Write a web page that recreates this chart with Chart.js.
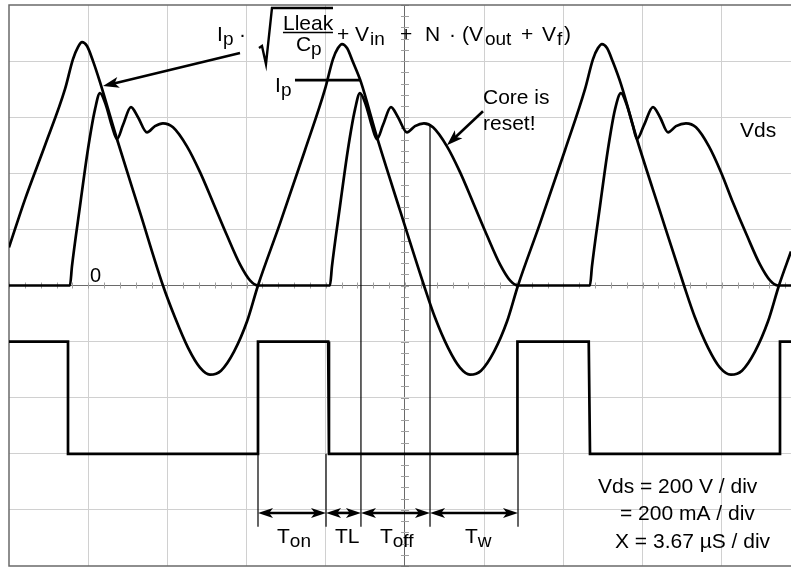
<!DOCTYPE html>
<html><head><meta charset="utf-8">
<script src="https://cdn.jsdelivr.net/npm/chart.js@4.4.1/dist/chart.umd.min.js"></script>
<style>html,body{margin:0;padding:0;background:#fff;}#wrap{width:791px;height:568px;position:relative;}</style>
</head><body><div id="wrap"><canvas id="c"></canvas></div>
<script>
// Units: x in screen divisions (3.67 µS / div), y in screen divisions (200 V / div, 200 mA / div)
const xDivisions = 9.874;          // visible part of the 10-division screen
const yDivisionsMin = -5, yDivisionsMax = 5;
const minorStep = 0.2;

// Current trace (triangular / ringing)
const currentX = [0,0.202,0.455,0.707,0.808,0.871,0.922,0.985,1.061,1.149,1.364,1.654,1.944,
  2.096,2.26,2.412,2.538,2.677,2.841,3.005,3.144,
  3.422,3.737,3.99,4.091,4.154,4.205,4.268,4.343,4.444,4.646,4.937,5.24,
  5.379,5.543,5.694,5.821,5.96,6.124,6.288,6.427,
  6.705,7.02,7.273,7.374,7.437,7.487,7.551,7.626,7.727,7.929,8.22,8.523,
  8.662,8.826,8.977,9.116,9.255,9.419,9.583,9.722,9.874];
const currentY = [0.679,1.536,2.5,3.5,4.036,4.25,4.339,4.268,4.0,3.625,2.607,1.304,0,
  -0.571,-1.107,-1.464,-1.589,-1.518,-1.179,-0.643,0,
  1.107,2.411,3.5,4.036,4.232,4.304,4.232,3.982,3.625,2.643,1.339,0,
  -0.571,-1.107,-1.464,-1.589,-1.518,-1.179,-0.643,0,
  1.107,2.411,3.5,4.036,4.232,4.304,4.232,3.982,3.589,2.607,1.321,0,
  -0.571,-1.107,-1.464,-1.589,-1.518,-1.179,-0.643,0,0.607];

// Vds trace
const vdsX = [0,0.77,0.795,0.896,0.997,1.086,1.149,1.225,1.30,1.364,1.439,1.54,1.629,1.742,1.843,1.944,2.071,2.247,2.412,2.576,2.753,2.917,3.043,3.144,
  4.053,4.078,4.179,4.28,4.369,4.432,4.508,4.583,4.646,4.722,4.823,4.912,5.025,5.126,5.24,5.354,5.53,5.695,5.859,6.036,6.20,6.326,6.427,
  7.336,7.361,7.462,7.563,7.652,7.727,7.803,7.879,7.929,8.018,8.131,8.22,8.321,8.422,8.548,8.674,8.838,8.99,9.141,9.318,9.482,9.609,9.71,9.874];
const vdsY = [0,0,0.34,1.41,2.43,3.14,3.43,3.21,2.84,2.61,2.86,3.18,3.0,2.73,2.84,2.89,2.82,2.48,2.02,1.48,0.89,0.375,0.09,0,
  0,0.34,1.41,2.43,3.14,3.43,3.21,2.84,2.61,2.86,3.18,3.0,2.73,2.84,2.89,2.82,2.48,2.02,1.48,0.89,0.375,0.09,0,
  0,0.34,1.41,2.43,3.14,3.43,3.21,2.84,2.61,2.86,3.18,3.0,2.73,2.84,2.89,2.82,2.48,2.02,1.48,0.89,0.375,0.09,0,0];

// Gate drive square wave
const gateX = [0,0.745,0.745,3.144,3.144,4.03,4.04,6.42,6.42,7.32,7.336,9.735,9.735,9.874];
const gateY = [-1,-1,-3,-3,-1,-1,-3,-3,-1,-1,-3,-3,-1,-1];

// Timing markers
const markerX = [3.144, 4.003, 4.444, 5.316, 6.427];
const markerTop = [-3, -3, 3.43, 2.86, -3];
const markerBottom = -4.30;
const dimensionY = -4.054;
const intervalNames = ['T','TL','T','T'];
const intervalSubs = ['on','','off','w'];
const intervalLabelX = [3.384, 4.116, 4.684, 5.758];
const intervalLabelY = -4.589;

// Ip level line
const ipLineX = [3.611, 4.444];
const ipLineY = [3.661, 3.661];

const pts = (xs, ys) => xs.map((v, i) => ({x: v, y: ys[i]}));

const datasets = [
  {data: pts(currentX, currentY), borderColor:'#000', borderWidth:2.7, cubicInterpolationMode:'monotone', pointRadius:0},
  {data: pts(vdsX, vdsY), borderColor:'#000', borderWidth:2.7, cubicInterpolationMode:'monotone', pointRadius:0},
  {data: pts(gateX, gateY), borderColor:'#000', borderWidth:2.7, tension:0, pointRadius:0, borderJoinStyle:'miter'},
  {data: pts(ipLineX, ipLineY), borderColor:'#000', borderWidth:2.7, pointRadius:0}
];
markerX.forEach((mx, i) => datasets.push({data:[{x:mx,y:markerTop[i]},{x:mx,y:markerBottom}], borderColor:'#000', borderWidth:1.2, pointRadius:0}));

const FONT = '"Liberation Sans", Arial, Helvetica, sans-serif';
function txt(ctx, s, x, y, size){ ctx.font = size + 'px ' + FONT; ctx.fillText(s, x, y); }
function head(ctx, x2, y2, ang, len, w){
  const c = Math.cos(ang), s = Math.sin(ang);
  ctx.beginPath();
  ctx.moveTo(x2, y2);
  ctx.lineTo(x2 - len*c + w*s, y2 - len*s - w*c);
  ctx.lineTo(x2 - 0.75*len*c, y2 - 0.75*len*s);
  ctx.lineTo(x2 - len*c - w*s, y2 - len*s + w*c);
  ctx.closePath(); ctx.fill();
}
function arrow(ctx, x1, y1, x2, y2, len, w, lw){
  const ang = Math.atan2(y2-y1, x2-x1);
  ctx.lineWidth = lw;
  ctx.beginPath(); ctx.moveTo(x1,y1); ctx.lineTo(x2 - Math.cos(ang)*len*0.7, y2 - Math.sin(ang)*len*0.7); ctx.stroke();
  head(ctx, x2, y2, ang, len, w);
}

const deco = {
  id: 'deco',
  beforeDatasetsDraw(chart){
    const {ctx, chartArea:a, scales:{x, y}} = chart;
    ctx.save();
    ctx.strokeStyle = '#a0a0a0'; ctx.lineWidth = 1;
    const x0 = x.getPixelForValue(5), y0 = y.getPixelForValue(0);
    ctx.beginPath();
    for (let i = 0; i * minorStep <= xDivisions; i++){
      const px = Math.round(x.getPixelForValue(i*minorStep)) + 0.5;
      ctx.moveTo(px, y0-3); ctx.lineTo(px, y0+3);
    }
    for (let i = -25; i <= 25; i++){
      const py = Math.round(y.getPixelForValue(i*minorStep)) + 0.5;
      ctx.moveTo(x0-4, py); ctx.lineTo(x0+4, py);
    }
    ctx.stroke();
    ctx.strokeStyle = '#6a6a6a'; ctx.lineWidth = 1.5;
    ctx.beginPath();
    ctx.moveTo(a.right, a.top); ctx.lineTo(a.left, a.top); ctx.lineTo(a.left, a.bottom); ctx.lineTo(a.right, a.bottom);
    ctx.stroke();
    ctx.restore();
  },
  afterDatasetsDraw(chart){
    const {ctx, scales:{x, y}} = chart;
    const P = (a, b) => [x.getPixelForValue(a), y.getPixelForValue(b)];
    ctx.save();
    ctx.fillStyle = '#000'; ctx.strokeStyle = '#000'; ctx.textBaseline = 'alphabetic'; ctx.textAlign = 'left';
    ctx.lineCap = 'butt';

    // formula
    const [fx, fy] = P(2.626, 4.357);
    const M = 21, S = 19;
    txt(ctx, 'I', fx, fy, M); txt(ctx, 'p', fx+6, fy+4, S);
    txt(ctx, '·', fx+22, fy, M);
    ctx.lineWidth = 2.4; ctx.lineJoin = 'miter';
    ctx.beginPath(); ctx.moveTo(fx+42, fy+7); ctx.lineTo(fx+45, fy+5); ctx.lineTo(fx+49, fy+23); ctx.lineTo(fx+55, fy-33); ctx.lineTo(fx+116, fy-33); ctx.stroke();
    txt(ctx, 'Lleak', fx+66, fy-11, M);
    ctx.lineWidth = 1.5;
    ctx.beginPath(); ctx.moveTo(fx+66, fy-8.5); ctx.lineTo(fx+116, fy-8.5); ctx.stroke();
    txt(ctx, 'C', fx+79, fy+10, M); txt(ctx, 'p', fx+94, fy+14, S);
    txt(ctx, '+', fx+120, fy, M);
    txt(ctx, 'V', fx+138, fy, M); txt(ctx, 'in', fx+153, fy+4, S);
    txt(ctx, '+', fx+183, fy, M);
    txt(ctx, 'N', fx+208, fy, M);
    txt(ctx, '·', fx+232, fy, M);
    txt(ctx, '(', fx+245, fy, M);
    txt(ctx, 'V', fx+252, fy, M); txt(ctx, 'out', fx+268, fy+4, S);
    txt(ctx, '+', fx+304, fy, M);
    txt(ctx, 'V', fx+325, fy, M); txt(ctx, 'f', fx+340, fy+4, S);
    txt(ctx, ')', fx+347, fy, M);

    // Ip label
    const [ix, iy] = P(3.359, 3.446);
    txt(ctx, 'I', ix, iy, M); txt(ctx, 'p', ix+6, iy+4, S);

    // other labels
    let p;
    p = P(1.023, 0.054); txt(ctx, '0', p[0], p[1], 20);
    p = P(9.23, 2.643); txt(ctx, 'Vds', p[0], p[1], M);
    p = P(5.985, 3.232); txt(ctx, 'Core is', p[0], p[1], M);
    p = P(5.985, 2.768); txt(ctx, 'reset!', p[0], p[1], M);
    p = P(7.437, -3.696); txt(ctx, 'Vds = 200 V / div', p[0], p[1], M);
    p = P(7.715, -4.179); txt(ctx, '= 200 mA / div', p[0], p[1], M);
    p = P(7.652, -4.679); txt(ctx, 'X = 3.67 \u00b5S / div', p[0], p[1], M);

    // arrows
    let a = P(2.917, 4.143), b = P(1.187, 3.554);
    arrow(ctx, a[0], a[1], b[0], b[1], 16, 5.5, 2.6);
    a = P(5.985, 3.107); b = P(5.53, 2.5);
    arrow(ctx, a[0], a[1], b[0], b[1], 16, 5.5, 2.6);

    // dimension arrows
    const dy = y.getPixelForValue(dimensionY);
    for (let i = 0; i < markerX.length - 1; i++){
      const l = x.getPixelForValue(markerX[i]), r = x.getPixelForValue(markerX[i+1]);
      ctx.lineWidth = 2.6;
      ctx.beginPath(); ctx.moveTo(l+8, dy); ctx.lineTo(r-8, dy); ctx.stroke();
      head(ctx, l, dy, Math.PI, 15, 5);
      head(ctx, r, dy, 0, 15, 5);
    }
    // interval labels
    intervalNames.forEach((n, i) => {
      const q = P(intervalLabelX[i], intervalLabelY);
      txt(ctx, n, q[0], q[1], M);
      if (intervalSubs[i]) { ctx.font = M + 'px ' + FONT; const w = ctx.measureText(n).width; txt(ctx, intervalSubs[i], q[0]+w, q[1]+4, S); }
    });
    ctx.restore();
  }
};

const isInt = v => Math.abs(v - Math.round(v)) < 1e-6;
new Chart(document.getElementById('c'), {
  type: 'scatter',
  data: { datasets },
  options: {
    responsive: true, maintainAspectRatio: false, animation: false, devicePixelRatio: 1,
    layout: { padding: { left: 9, right: 0, top: 5, bottom: 2 } },
    plugins: { legend: { display: false }, tooltip: { enabled: false } },
    elements: { point: { radius: 0 }, line: { borderCapStyle: 'butt' } },
    showLine: true,
    scales: {
      x: { type: 'linear', min: 0, max: xDivisions,
        ticks: { display: false, stepSize: 1 },
        grid: { drawTicks: false, lineWidth: 1,
          color: c => { const v = c.tick.value; if (!isInt(v) || v === 0) return 'rgba(0,0,0,0)'; return Math.round(v) === 5 ? '#6a6a6a' : '#d0d0d0'; } },
        border: { display: false } },
      y: { type: 'linear', min: yDivisionsMin, max: yDivisionsMax,
        ticks: { display: false, stepSize: 1 },
        grid: { drawTicks: false, lineWidth: 1,
          color: c => { const v = Math.round(c.tick.value); if (v === 0) return '#6a6a6a'; if (Math.abs(v) === 5) return 'rgba(0,0,0,0)'; return '#d0d0d0'; } },
        border: { display: false } }
    }
  },
  plugins: [deco]
});
</script></body></html>
